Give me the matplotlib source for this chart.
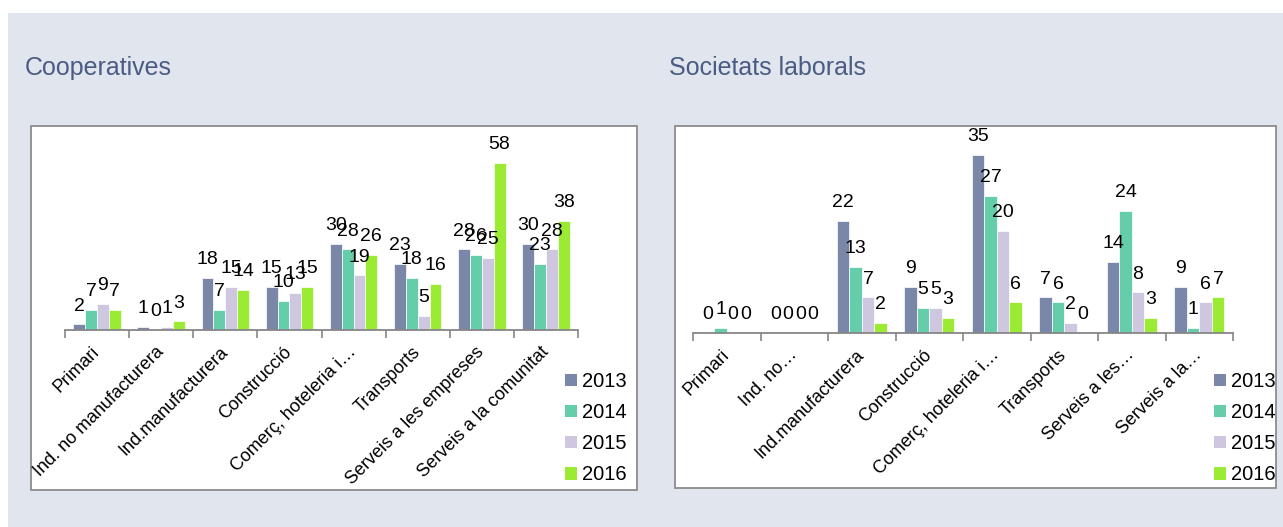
import matplotlib
matplotlib.use('Agg')
import matplotlib.pyplot as plt
from matplotlib.patches import Rectangle, Patch
import numpy as np

plt.rcParams['font.family'] = ['Liberation Sans', 'DejaVu Sans']

years = ['2013', '2014', '2015', '2016']
colors = ['#7B87A8', '#66CDAA', '#CFC6E0', '#9BEB34']

coop_title = 'Cooperatives'
coop_categories = ['Primari', 'Ind. no manufacturera', 'Ind.manufacturera', 'Construcció',
                   'Comerç, hoteleria i…', 'Transports', 'Serveis a les empreses',
                   'Serveis a la comunitat']
coop_2013 = [2, 1, 18, 15, 30, 23, 28, 30]
coop_2014 = [7, 0, 7, 10, 28, 18, 26, 23]
coop_2015 = [9, 1, 15, 13, 19, 5, 25, 28]
coop_2016 = [7, 3, 14, 15, 26, 16, 58, 38]

sl_title = 'Societats laborals'
sl_categories = ['Primari', 'Ind. no…', 'Ind.manufacturera', 'Construcció',
                 'Comerç, hoteleria i…', 'Transports', 'Serveis a les…', 'Serveis a la…']
sl_2013 = [0, 0, 22, 9, 35, 7, 14, 9]
sl_2014 = [1, 0, 13, 5, 27, 6, 24, 1]
sl_2015 = [0, 0, 7, 5, 20, 2, 8, 6]
sl_2016 = [0, 0, 2, 3, 6, 0, 3, 7]

W, H = 1283, 527
fig = plt.figure(figsize=(W / 100, H / 100), dpi=100)
fig.patch.set_facecolor('white')


def fx(x):
    return x / W


def fy(y):
    return 1 - y / H


# background
fig.patches.append(Rectangle((fx(8), 0), 1 - fx(8), fy(13), transform=fig.transFigure,
                             facecolor='#E1E5EE', edgecolor='none', zorder=-3))


def panel(box, axbox, ymax, cats, series, title, title_x, legend_xy):
    x0, y0, x1, y1 = box
    fig.patches.append(Rectangle((fx(x0), fy(y1)), fx(x1) - fx(x0), fy(y0) - fy(y1),
                                 transform=fig.transFigure, facecolor='white',
                                 edgecolor='#8C8C8C', linewidth=1.3, zorder=-2))
    fig.text(fx(title_x), fy(68), title, fontsize=18, color='#4A5B84',
             ha='left', va='center')
    a0, b0, a1, b1 = axbox
    ax = fig.add_axes([fx(a0), fy(b1), fx(a1) - fx(a0), fy(b0) - fy(b1)])
    ax.set_facecolor('none')
    n = len(cats)
    x = np.arange(n)
    w = 0.185
    for i, (vals, c) in enumerate(zip(series, colors)):
        pos = x + (i - 1.5) * w
        ax.bar(pos, vals, width=w, color=c, edgecolor='white', linewidth=0.5, zorder=2)
        for p, v in zip(pos, vals):
            ax.annotate(str(v), (p, v), xytext=(0, 7), textcoords='offset points',
                        ha='center', va='bottom', fontsize=14, color='black',
                        annotation_clip=False)
    ax.set_xlim(-0.5, n - 0.5)
    ax.set_ylim(0, ymax)
    for s in ['top', 'right', 'left']:
        ax.spines[s].set_visible(False)
    ax.spines['bottom'].set_color('#868686')
    ax.spines['bottom'].set_linewidth(1.3)
    ax.set_yticks([])
    ax.set_xticks(x)
    ax.set_xticklabels(cats, rotation=45, ha='right', va='center',
                       rotation_mode='anchor', fontsize=13)
    ax.tick_params(axis='x', which='major', length=0, pad=14)
    ax.set_xticks(np.arange(-0.5, n, 1.0), minor=True)
    ax.tick_params(axis='x', which='minor', length=6, width=1.2, color='#868686')
    handles = [Patch(facecolor=c, edgecolor='none') for c in colors]
    fig.legend(handles, years, loc='upper left', bbox_to_anchor=legend_xy,
               bbox_transform=fig.transFigure, frameon=False, fontsize=14.5,
               handlelength=0.6, handleheight=0.6, handletextpad=0.25,
               labelspacing=0.6, borderaxespad=0, borderpad=0)
    return ax


panel((31, 126, 637, 490), (65, 140, 578, 330), (330 - 140) / 2.88, coop_categories,
      [coop_2013, coop_2014, coop_2015, coop_2016], coop_title, 25,
      (fx(565), fy(372)))
panel((675, 126, 1276, 488), (693, 140, 1233, 333), (333 - 140) / 5.09, sl_categories,
      [sl_2013, sl_2014, sl_2015, sl_2016], sl_title, 669,
      (fx(1214), fy(372)))

fig.savefig('out.png', dpi=100, facecolor=fig.get_facecolor())
